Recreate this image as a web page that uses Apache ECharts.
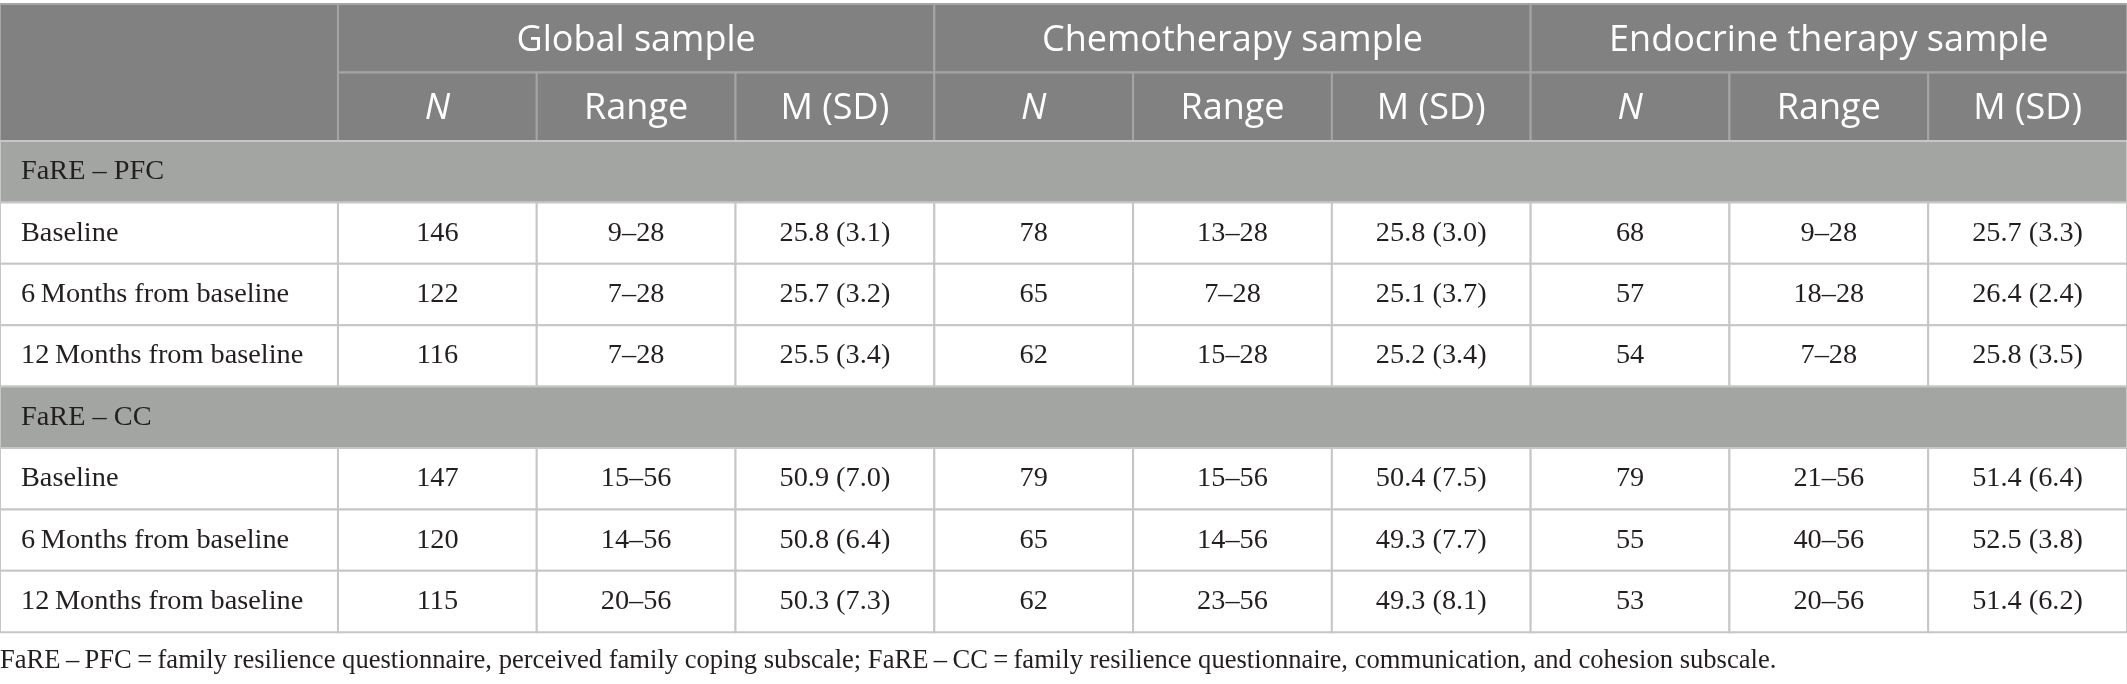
<!DOCTYPE html>
<html>
<head>
<meta charset="utf-8">
<script src="https://cdn.jsdelivr.net/npm/echarts@6/dist/echarts.min.js"></script>
<style>
html,body{margin:0;padding:0;background:#ffffff;}
#chart{width:2127px;height:684px;}
</style>
</head>
<body>
<div id="chart"></div>
<script>
// ---- data ----
const samples = ['Global sample', 'Chemotherapy sample', 'Endocrine therapy sample'];
const statHeaders = ['N', 'Range', 'M (SD)'];
const scales = ['FaRE \u2013 PFC', 'FaRE \u2013 CC'];
const timepoints = ['Baseline', '6\u2009Months from baseline', '12\u2009Months from baseline'];

// [sample][timepoint]
const pfcN = [[146, 122, 116], [78, 65, 62], [68, 57, 54]];
const pfcRange = [['9\u201328', '7\u201328', '7\u201328'], ['13\u201328', '7\u201328', '15\u201328'], ['9\u201328', '18\u201328', '7\u201328']];
const pfcMean = [[25.8, 25.7, 25.5], [25.8, 25.1, 25.2], [25.7, 26.4, 25.8]];
const pfcSD = [[3.1, 3.2, 3.4], [3.0, 3.7, 3.4], [3.3, 2.4, 3.5]];

const ccN = [[147, 120, 115], [79, 65, 62], [79, 55, 53]];
const ccRange = [['15\u201356', '14\u201356', '20\u201356'], ['15\u201356', '14\u201356', '23\u201356'], ['21\u201356', '40\u201356', '20\u201356']];
const ccMean = [[50.9, 50.8, 50.3], [50.4, 49.3, 49.3], [51.4, 52.5, 51.4]];
const ccSD = [[7.0, 6.4, 7.3], [7.5, 7.7, 8.1], [6.4, 3.8, 6.2]];

const footnote = 'FaRE\u2009\u2013\u2009PFC\u2009=\u2009family resilience questionnaire, perceived family coping subscale; FaRE\u2009\u2013\u2009CC\u2009=\u2009family resilience questionnaire, communication, and cohesion subscale.';

// ---- layout (not data) ----
const colWidths = [338].concat(new Array(9).fill(198.8));
const rowHeights = [68.5, 68.5].concat(new Array(8).fill(61.4));
const colEdges = [0]; colWidths.forEach(w => colEdges.push(colEdges[colEdges.length - 1] + w));
const rowEdges = [0]; rowHeights.forEach(h => rowEdges.push(rowEdges[rowEdges.length - 1] + h));

// ---- build cells: [col, row, colSpan, rowSpan, text, kind] ----
const cells = [];
cells.push([0, 0, 1, 2, '', 'head']);
samples.forEach((s, i) => cells.push([1 + i * 3, 0, 3, 1, s, 'head']));
samples.forEach((s, i) => statHeaders.forEach((h, j) => cells.push([1 + i * 3 + j, 1, 1, 1, h, j === 0 ? 'headItalic' : 'head'])));
const blocks = [[pfcN, pfcRange, pfcMean, pfcSD], [ccN, ccRange, ccMean, ccSD]];
scales.forEach((sc, k) => {
  const r0 = 2 + k * 4;
  cells.push([0, r0, 10, 1, sc, 'group']);
  const [N, R, M, SD] = blocks[k];
  timepoints.forEach((tp, t) => {
    const r = r0 + 1 + t;
    cells.push([0, r, 1, 1, tp, 'label']);
    samples.forEach((s, i) => {
      cells.push([1 + i * 3, r, 1, 1, String(N[i][t]), 'cell']);
      cells.push([2 + i * 3, r, 1, 1, R[i][t], 'cell']);
      cells.push([3 + i * 3, r, 1, 1, M[i][t].toFixed(1) + ' (' + SD[i][t].toFixed(1) + ')', 'cell']);
    });
  });
});

const SERIF = '"Liberation Serif", "DejaVu Serif", serif';
const SANS = '"Open Sans", "Noto Sans", sans-serif';

const chart = echarts.init(document.getElementById('chart'), null, { renderer: 'canvas' });
chart.setOption({
  animation: false,
  backgroundColor: '#ffffff',
  title: {
    text: footnote,
    left: 0,
    top: 648,
    padding: 0,
    textStyle: { fontFamily: SERIF, fontSize: 26.6, fontWeight: 'normal', color: '#231f20' }
  },
  grid: { left: 0, top: 4, width: colEdges[10], height: rowEdges[10] },
  xAxis: { type: 'value', min: 0, max: colEdges[10], show: false },
  yAxis: { type: 'value', min: 0, max: rowEdges[10], inverse: true, show: false },
  series: [{
    type: 'custom',
    coordinateSystem: 'cartesian2d',
    clip: false,
    data: cells,
    encode: { x: 0, y: 1 },
    renderItem: function (params, api) {
      const d = cells[params.dataIndex];
      const c = d[0], r = d[1], cs = d[2], rs = d[3], text = d[4], kind = d[5];
      const p0 = api.coord([colEdges[c], rowEdges[r]]);
      const p1 = api.coord([colEdges[c + cs], rowEdges[r + rs]]);
      const x = p0[0], y = p0[1], w = p1[0] - p0[0], h = p1[1] - p0[1];
      let fill = '#ffffff', stroke = '#c6c6c6', lw = 2;
      let font = SERIF, size = 28.3, color = '#231f20', align = 'center', tx = x + w / 2, style = 'normal', dy = 0;
      if (kind === 'head' || kind === 'headItalic') {
        fill = '#808180'; stroke = '#a4a5a4'; lw = 2;
        font = SANS; size = 36; color = '#ffffff'; dy = 2;
        if (kind === 'headItalic') style = 'italic';
      } else if (kind === 'group') {
        fill = '#a3a5a3'; stroke = '#c6c6c6';
        align = 'left'; tx = x + 21;
      } else if (kind === 'label') {
        align = 'left'; tx = x + 21;
      }
      return {
        type: 'group',
        children: [
          { type: 'rect', shape: { x: x, y: y, width: w, height: h }, style: { fill: fill, stroke: stroke, lineWidth: lw } },
          { type: 'text', style: { text: text, x: tx, y: y + h / 2 + dy, align: align, verticalAlign: 'middle', fontFamily: font, fontSize: size, fontStyle: style, fill: color } }
        ]
      };
    }
  }]
});
</script>
</body>
</html>
